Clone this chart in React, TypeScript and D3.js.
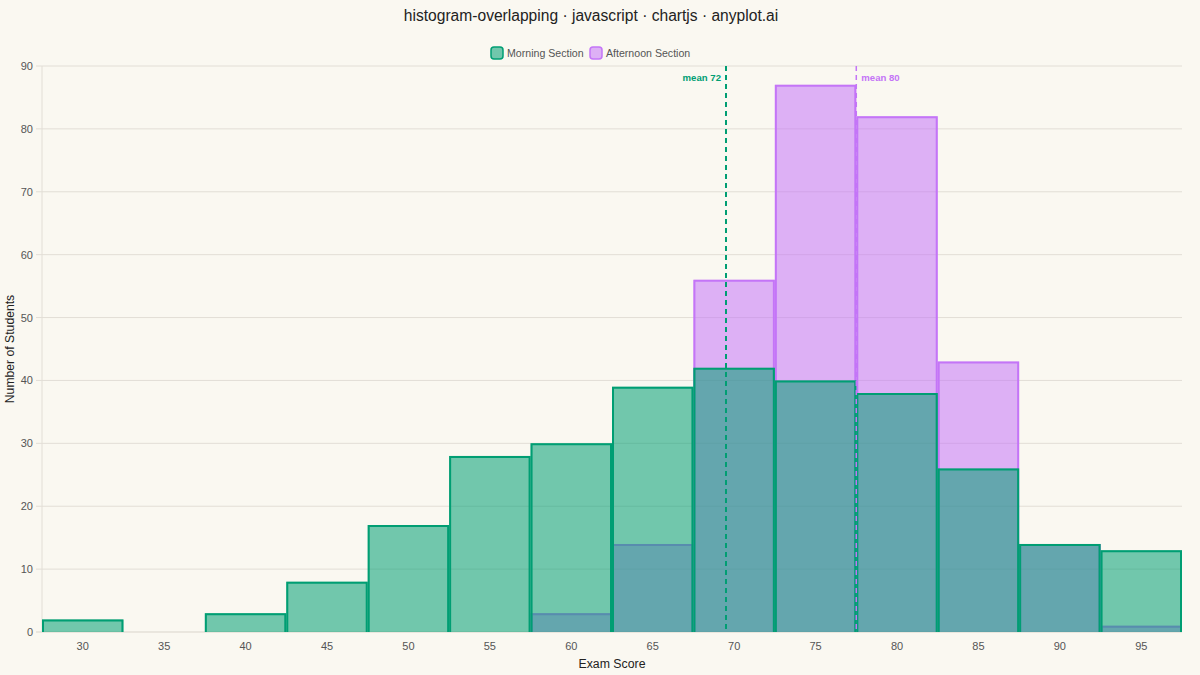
import { useEffect, useRef } from "react";
import * as d3 from "d3";

// bin start values (each bin is 5 points wide)
const binStarts = [30, 35, 40, 45, 50, 55, 60, 65, 70, 75, 80, 85, 90, 95];
const morningCounts = [2, 0, 3, 8, 17, 28, 30, 39, 42, 40, 38, 26, 14, 13];
const afternoonCounts = [0, 0, 0, 0, 0, 0, 3, 14, 56, 87, 82, 43, 14, 1];
const yTicks = [0, 10, 20, 30, 40, 50, 60, 70, 80, 90];
const seriesNames = ["Morning Section", "Afternoon Section"];
const means = [72, 80];

const BIN = 5;
const W = 1200;
const H = 675;
const FONT = '"Liberation Sans", Arial, Helvetica, sans-serif';
const GREEN = "#009E73";
const PURPLE = "#C475F7";

export default function App() {
  const ref = useRef<HTMLDivElement | null>(null);

  useEffect(() => {
    if (!ref.current) return;
    document.body.style.margin = "0";
    d3.select(ref.current).selectAll("svg").remove();

    const svg = d3
      .select(ref.current)
      .append("svg")
      .attr("width", W)
      .attr("height", H)
      .style("display", "block")
      .style("font-family", FONT);

    svg.append("rect").attr("width", W).attr("height", H).attr("fill", "#FAF8F1");

    const left = 42;
    const right = 1182;
    const top = 66;
    const bottom = 632;

    const x = d3
      .scaleLinear()
      .domain([binStarts[0], binStarts[binStarts.length - 1] + BIN])
      .range([left, right]);
    const y = d3.scaleLinear().domain([0, 90]).range([bottom, top]);

    // title
    svg
      .append("text")
      .attr("x", 591)
      .attr("y", 21)
      .attr("text-anchor", "middle")
      .attr("font-size", 15.6)
      .attr("fill", "#222")
      .text("histogram-overlapping · javascript · chartjs · anyplot.ai");

    // legend
    const legend = svg.append("g");
    const legendItems = [
      { name: seriesNames[0], color: GREEN, x: 490 },
      { name: seriesNames[1], color: PURPLE, x: 589 },
    ];
    legendItems.forEach((it) => {
      legend
        .append("rect")
        .attr("x", it.x + 1)
        .attr("y", 47)
        .attr("width", 12)
        .attr("height", 12)
        .attr("rx", 3)
        .attr("fill", it.color)
        .attr("fill-opacity", 0.55)
        .attr("stroke", it.color)
        .attr("stroke-width", 1.5);
      legend
        .append("text")
        .attr("x", it.x + 17)
        .attr("y", 57)
        .attr("font-size", 10.6)
        .attr("fill", "#555")
        .text(it.name);
    });

    // grid lines
    svg
      .append("g")
      .selectAll("line")
      .data(yTicks)
      .join("line")
      .attr("x1", left - 6)
      .attr("x2", right)
      .attr("y1", (d) => y(d))
      .attr("y2", (d) => y(d))
      .attr("stroke", (d) => (d === 0 ? "#d9d4cb" : "#e2ded6"))
      .attr("stroke-width", 1);

    svg
      .append("line")
      .attr("x1", left)
      .attr("x2", left)
      .attr("y1", top)
      .attr("y2", bottom)
      .attr("stroke", "#e2ded6");

    // y tick labels
    svg
      .append("g")
      .selectAll("text")
      .data(yTicks)
      .join("text")
      .attr("x", left - 9)
      .attr("y", (d) => y(d) + 4)
      .attr("text-anchor", "end")
      .attr("font-size", 11)
      .attr("fill", "#555")
      .text((d) => d);

    // x tick labels at bin centres
    svg
      .append("g")
      .selectAll("text")
      .data(binStarts)
      .join("text")
      .attr("x", (d) => x(d + BIN / 2))
      .attr("y", bottom + 18)
      .attr("text-anchor", "middle")
      .attr("font-size", 11)
      .attr("fill", "#555")
      .text((d) => d);

    // axis titles
    svg
      .append("text")
      .attr("x", (left + right) / 2)
      .attr("y", 668)
      .attr("text-anchor", "middle")
      .attr("font-size", 12.3)
      .attr("fill", "#222")
      .text("Exam Score");
    svg
      .append("text")
      .attr("transform", `translate(14,${(top + bottom) / 2}) rotate(-90)`)
      .attr("text-anchor", "middle")
      .attr("font-size", 12.2)
      .attr("fill", "#222")
      .text("Number of Students");

    // bars: afternoon below, morning on top
    const bw = 2;
    const drawSeries = (counts: number[], color: string) => {
      const g = svg.append("g");
      const data = binStarts
        .map((b, i) => ({ b, v: counts[i] }))
        .filter((d) => d.v > 0);
      g.selectAll("rect")
        .data(data)
        .join("rect")
        .attr("x", (d) => x(d.b))
        .attr("y", (d) => y(d.v))
        .attr("width", (d) => x(d.b + BIN) - x(d.b))
        .attr("height", (d) => y(0) - y(d.v))
        .attr("fill", color)
        .attr("fill-opacity", 0.55);
      g.selectAll("path")
        .data(data)
        .join("path")
        .attr("d", (d) => {
          const x0 = x(d.b) + bw / 2;
          const x1 = x(d.b + BIN) - bw / 2;
          const y0 = y(d.v) + bw / 2;
          return `M${x0},${y(0)}V${y0}H${x1}V${y(0)}`;
        })
        .attr("fill", "none")
        .attr("stroke", color)
        .attr("stroke-width", bw);
    };
    drawSeries(afternoonCounts, PURPLE);
    drawSeries(morningCounts, GREEN);

    // mean lines
    const meanColors = [GREEN, PURPLE];
    means.forEach((m, i) => {
      svg
        .append("line")
        .attr("x1", x(m))
        .attr("x2", x(m))
        .attr("y1", top)
        .attr("y2", bottom)
        .attr("stroke", meanColors[i])
        .attr("stroke-width", i === 0 ? 2 : 1.5)
        .attr("stroke-dasharray", "5,4");
      svg
        .append("text")
        .attr("x", i === 0 ? x(m) - 5 : x(m) + 5)
        .attr("y", 81)
        .attr("text-anchor", i === 0 ? "end" : "start")
        .attr("font-size", 9.6)
        .attr("font-weight", "bold")
        .attr("fill", meanColors[i])
        .text(`mean ${m}`);
    });
  }, []);

  return <div ref={ref}></div>;
}
